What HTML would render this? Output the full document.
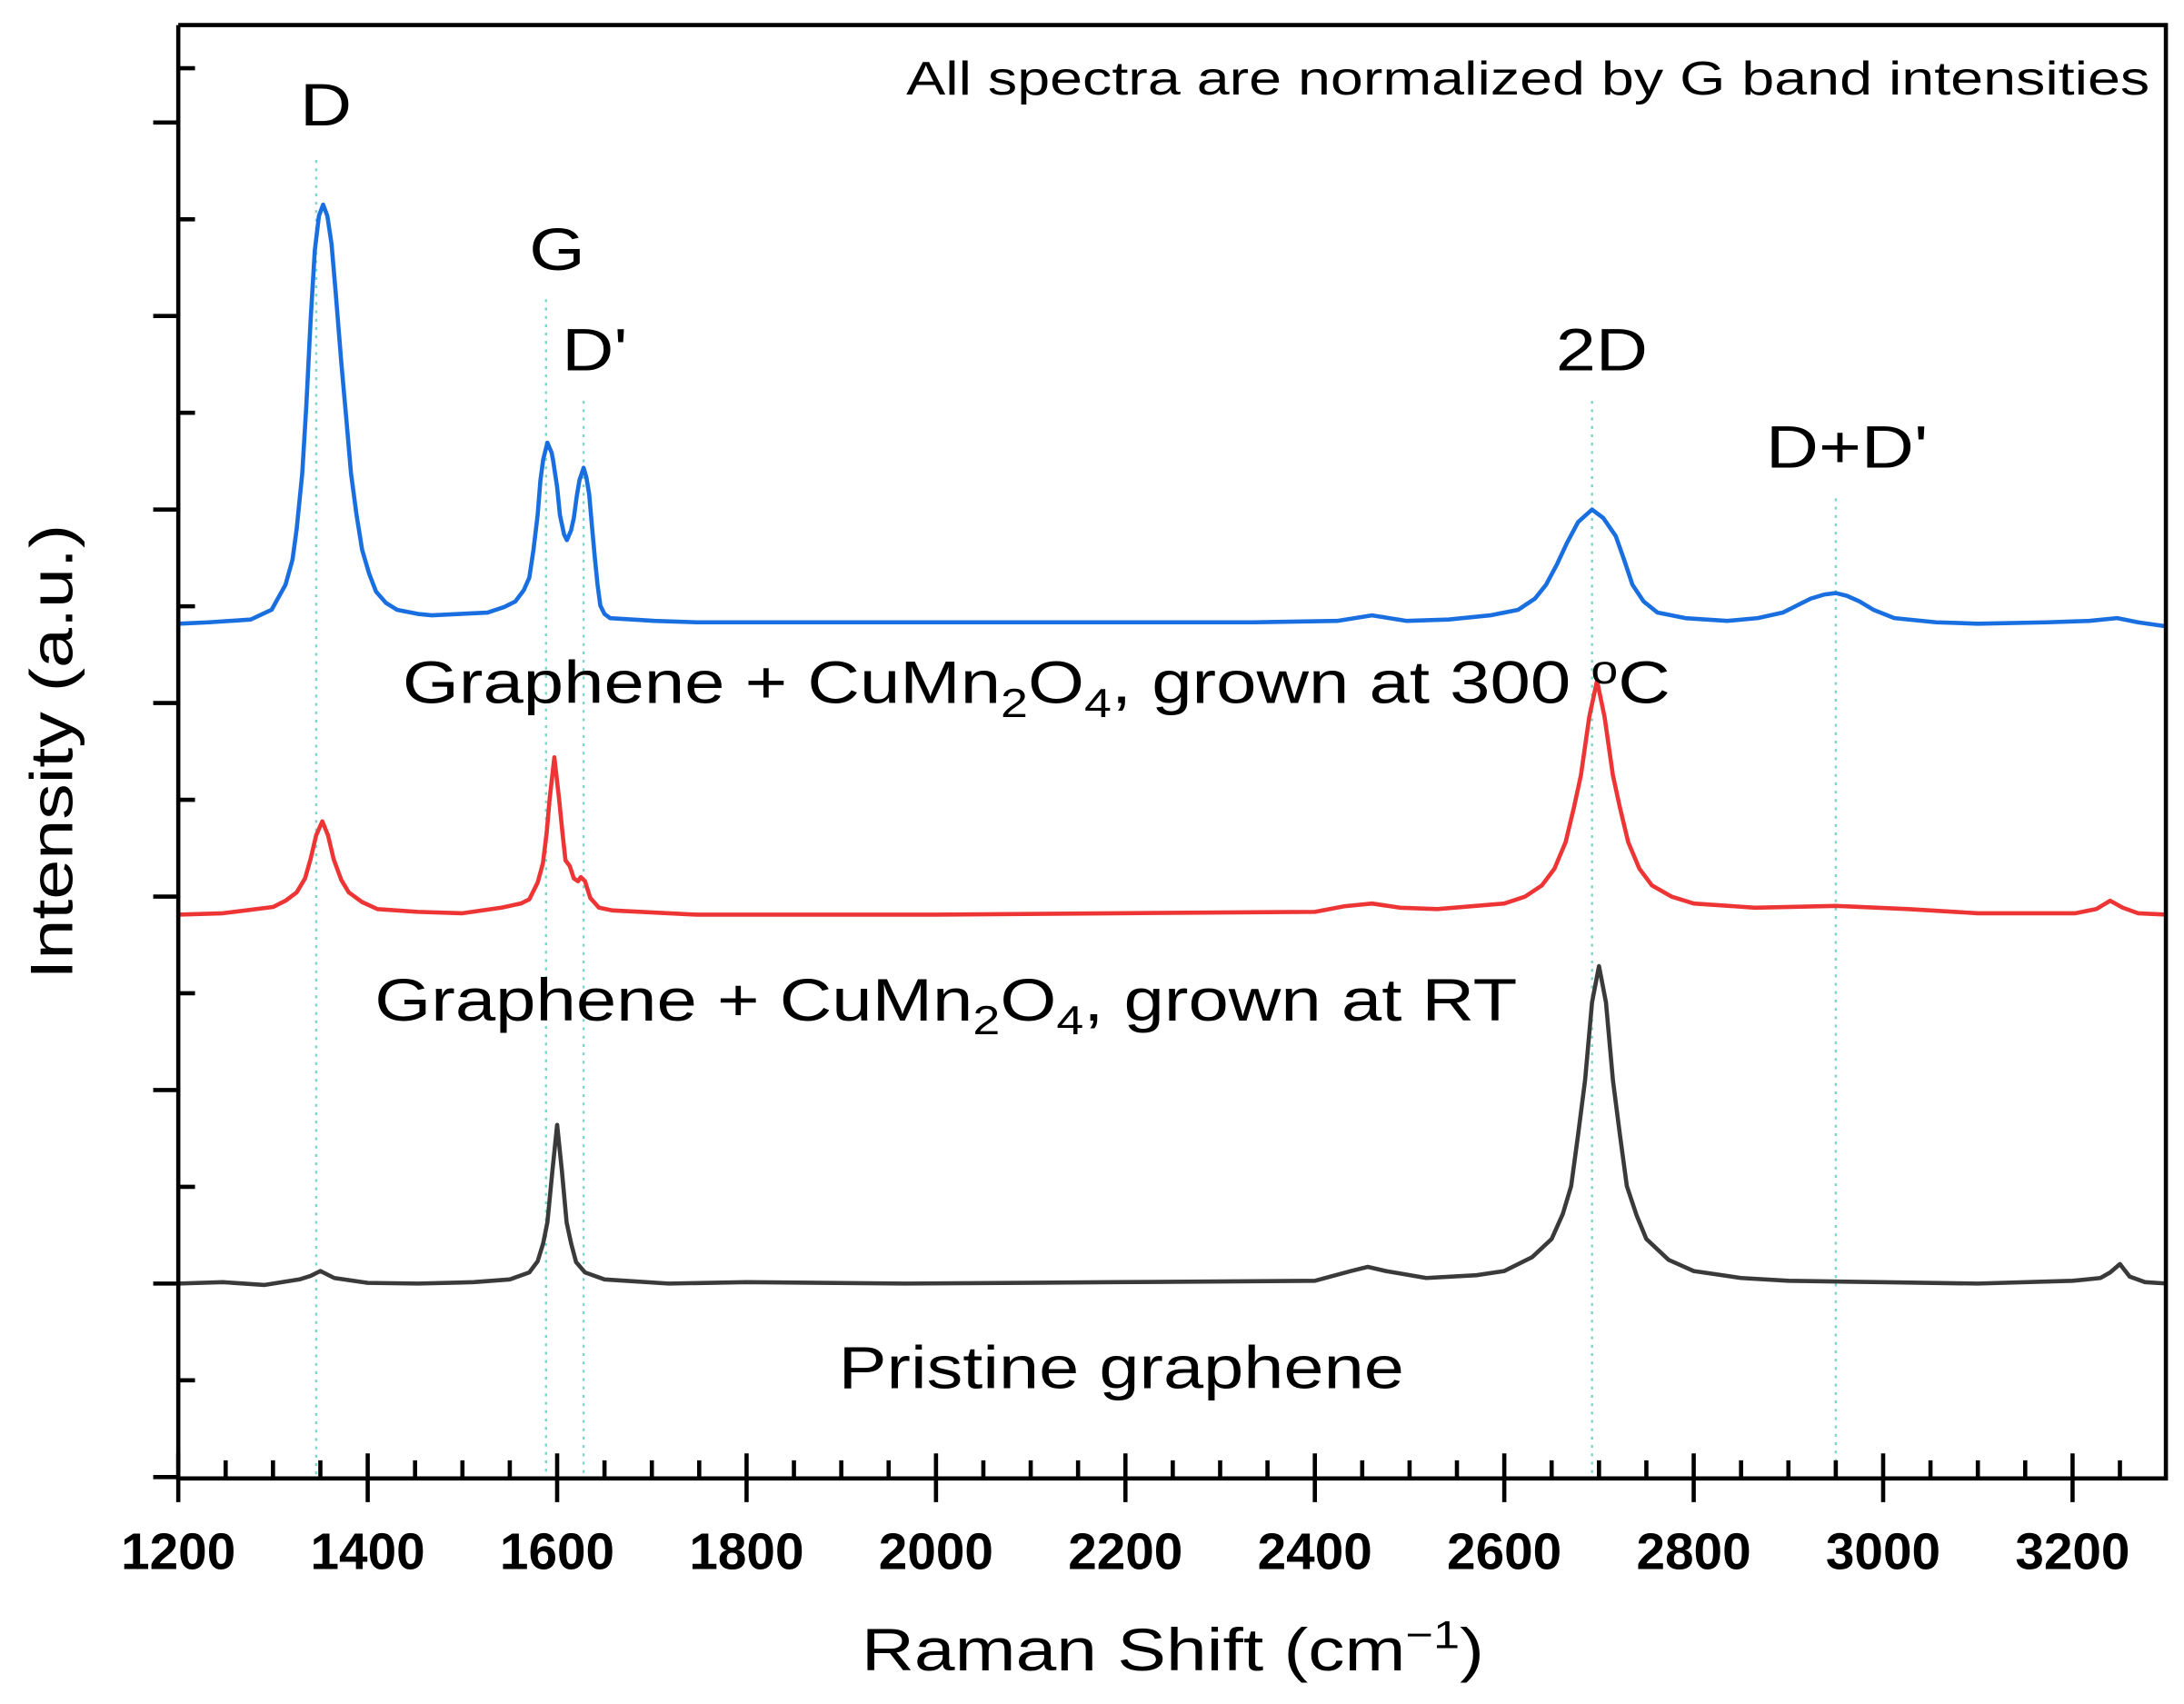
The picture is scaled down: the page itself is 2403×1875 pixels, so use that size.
<!DOCTYPE html>
<html><head><meta charset="utf-8"><style>
html,body{margin:0;padding:0;background:#fff}
svg{display:block}
text{font-family:"Liberation Sans",Arial,sans-serif}
</style></head><body>
<svg width="2403" height="1875" viewBox="0 0 1568 1224" preserveAspectRatio="none" xmlns="http://www.w3.org/2000/svg">
<rect width="1568" height="1224" fill="#fff"/>
<g stroke="#7fd6c8" stroke-width="1.6" stroke-dasharray="2,4">
<line x1="227" y1="115" x2="227" y2="1062"/>
<line x1="392" y1="215" x2="392" y2="1062"/>
<line x1="419" y1="288" x2="419" y2="1062"/>
<line x1="1143" y1="288" x2="1143" y2="1062"/>
<line x1="1318" y1="358" x2="1318" y2="1062"/>
</g>
<g fill="none" stroke-width="3" stroke-linejoin="round">
<polyline stroke="#3a3a3a" points="128,922 160,921 190,923 215,919 223,916.5 230,913 240,918 264,921.5 300,922 340,921 366,919 380,914 386,906 390,893 393,878 396.6,841 400,808 403.4,841 406.8,878 410,893 413.6,906.6 420,914 434,919 480,922 536,921 650,922 800,921 944,920 970,913 982,910 995,913 1024,918 1060,916 1080,913 1100,903 1114,890 1122,872 1128,852 1133,815 1138,776 1143,720 1148,694 1153,720 1158,776 1163,815 1168,852 1175,873 1182,890 1198,905 1216,913 1250,918 1284,920 1350,921 1420,922 1488,920 1508,918 1515,914 1522,908 1529,917 1540,921 1556,922"/>
<polyline stroke="#ee3535" points="128,657 160,656 196,651.5 205,647 213,641 219,631 223,617 227,600 231.4,590 235.5,600 239.5,617 245,632 250.4,641 260,648 271,653 300,655 332,656 360,652 374,649 380,646 386,634 389.8,620 392.5,598 394.6,574 398,544 401.4,574 404,600 406,618 409,622 412,631 415,633 417,630 420,633 423.8,645 430,652 440,654 500,657 672,657 800,656 944,655 965,651 985,649 1005,652 1032,653 1080,649 1095,644 1107,636 1116,624 1124,605 1130,580 1135,557 1141,515 1146.6,489 1152,515 1158,557 1163,580 1169,605 1177,624 1186,636 1200,644 1216,649 1260,652 1318,650.7 1370,653 1420,656 1490,656 1505,653 1515,647 1524,652 1535,656 1556,657"/>
<polyline stroke="#1a6fe0" points="128,448 150,447 180,445 195,438 205,420 210,402 213,380 217,340 220,290 223,230 226,180 229,155 232,147 235,155 238,175 241,210 245,260 249,305 252,340 256,370 260,395 265,412 270,425 277,433 285,438 300,441 310,442 330,441 350,440 362,436 370,432 376,424 380,415 383,395 386,370 388,345 390,330 393,318 396,325 397,330 400,350 402,370 405,384 407,388 410,381 412,372 414,357 416,345 419,336 421,343 423,355 425,378 427,400 429,420 431,435 434,441 438,444 470,446 500,447 700,447 900,447 960,446 985,442 1010,446 1040,445 1070,442 1090,438 1102,430 1110,420 1118,405 1125,390 1133,375 1143,366 1151,372 1160,385 1166,402 1172,420 1180,432 1190,440 1210,444 1240,446 1262,444 1280,440 1292,434 1300,430 1310,427 1318,426 1326,428 1335,432 1345,438 1360,444 1390,447 1420,448 1470,447 1500,446 1520,444 1535,447 1556,450"/>
</g>
<g stroke="#000" stroke-width="3" fill="none">
<polyline points="128,18 1555,18 1555,1062 128,1062 128,18"/>
</g>
<g stroke="#000" stroke-width="3">
<path d="M128,1044V1079M264,1044V1079M400,1044V1079M536,1044V1079M672,1044V1079M808,1044V1079M944,1044V1079M1080,1044V1079M1216,1044V1079M1352,1044V1079M1488,1044V1079"/>
<path d="M162,1062V1049M196,1062V1049M230,1062V1049M298,1062V1049M332,1062V1049M366,1062V1049M434,1062V1049M468,1062V1049M502,1062V1049M570,1062V1049M604,1062V1049M638,1062V1049M706,1062V1049M740,1062V1049M774,1062V1049M842,1062V1049M876,1062V1049M910,1062V1049M978,1062V1049M1012,1062V1049M1046,1062V1049M1114,1062V1049M1148,1062V1049M1182,1062V1049M1250,1062V1049M1284,1062V1049M1318,1062V1049M1386,1062V1049M1420,1062V1049M1454,1062V1049M1522,1062V1049"/>
<path d="M110,1061H128M110,922H128M110,783H128M110,644H128M110,505H128M110,366H128M110,227H128M110,88H128"/>
<path d="M128,991.5H140M128,852.5H140M128,713.5H140M128,574.5H140M128,435.5H140M128,296.5H140M128,157.5H140M128,49H140"/>
</g>
<g font-size="37" font-weight="bold" text-anchor="middle">
<text x="128" y="1127">1200</text><text x="264" y="1127">1400</text><text x="400" y="1127">1600</text><text x="536" y="1127">1800</text><text x="672" y="1127">2000</text><text x="808" y="1127">2200</text><text x="944" y="1127">2400</text><text x="1080" y="1127">2600</text><text x="1216" y="1127">2800</text><text x="1352" y="1127">3000</text><text x="1488" y="1127">3200</text>
</g>
<text transform="translate(1097,68) scale(1.24,1)" font-size="34" text-anchor="middle">All spectra are normalized by G band intensities</text>
<g font-size="43" text-anchor="middle">
<text transform="translate(234,90) scale(1.2,1)">D</text>
<text transform="translate(400,194) scale(1.2,1)">G</text>
<text transform="translate(427,266) scale(1.2,1)">D'</text>
<text transform="translate(1150,266) scale(1.2,1)">2D</text>
<text transform="translate(1326,336) scale(1.22,1)">D+D'</text>
</g>
<g font-size="43">
<text transform="translate(289,505) scale(1.21,1)">Graphene + CuMn<tspan font-size="29" dy="10">2</tspan><tspan dy="-10">O</tspan><tspan font-size="29" dy="10">4</tspan><tspan dy="-10">, grown at 300 </tspan><tspan font-size="29" dy="-14">o</tspan><tspan dy="14">C</tspan></text>
<text transform="translate(269,733) scale(1.21,1)">Graphene + CuMn<tspan font-size="29" dy="10">2</tspan><tspan dy="-10">O</tspan><tspan font-size="29" dy="10">4</tspan><tspan dy="-10">, grown at RT</tspan></text>
<text transform="translate(602,997) scale(1.205,1)">Pristine graphene</text>
<text transform="translate(842,1200) scale(1.22,1)" text-anchor="middle">Raman Shift (cm<tspan font-size="28" dy="-16">−1</tspan><tspan dy="16">)</tspan></text>
<text transform="translate(52,540) rotate(-90) scale(1.2,1)" text-anchor="middle">Intensity (a.u.)</text>
</g>
</svg>
</body></html>
